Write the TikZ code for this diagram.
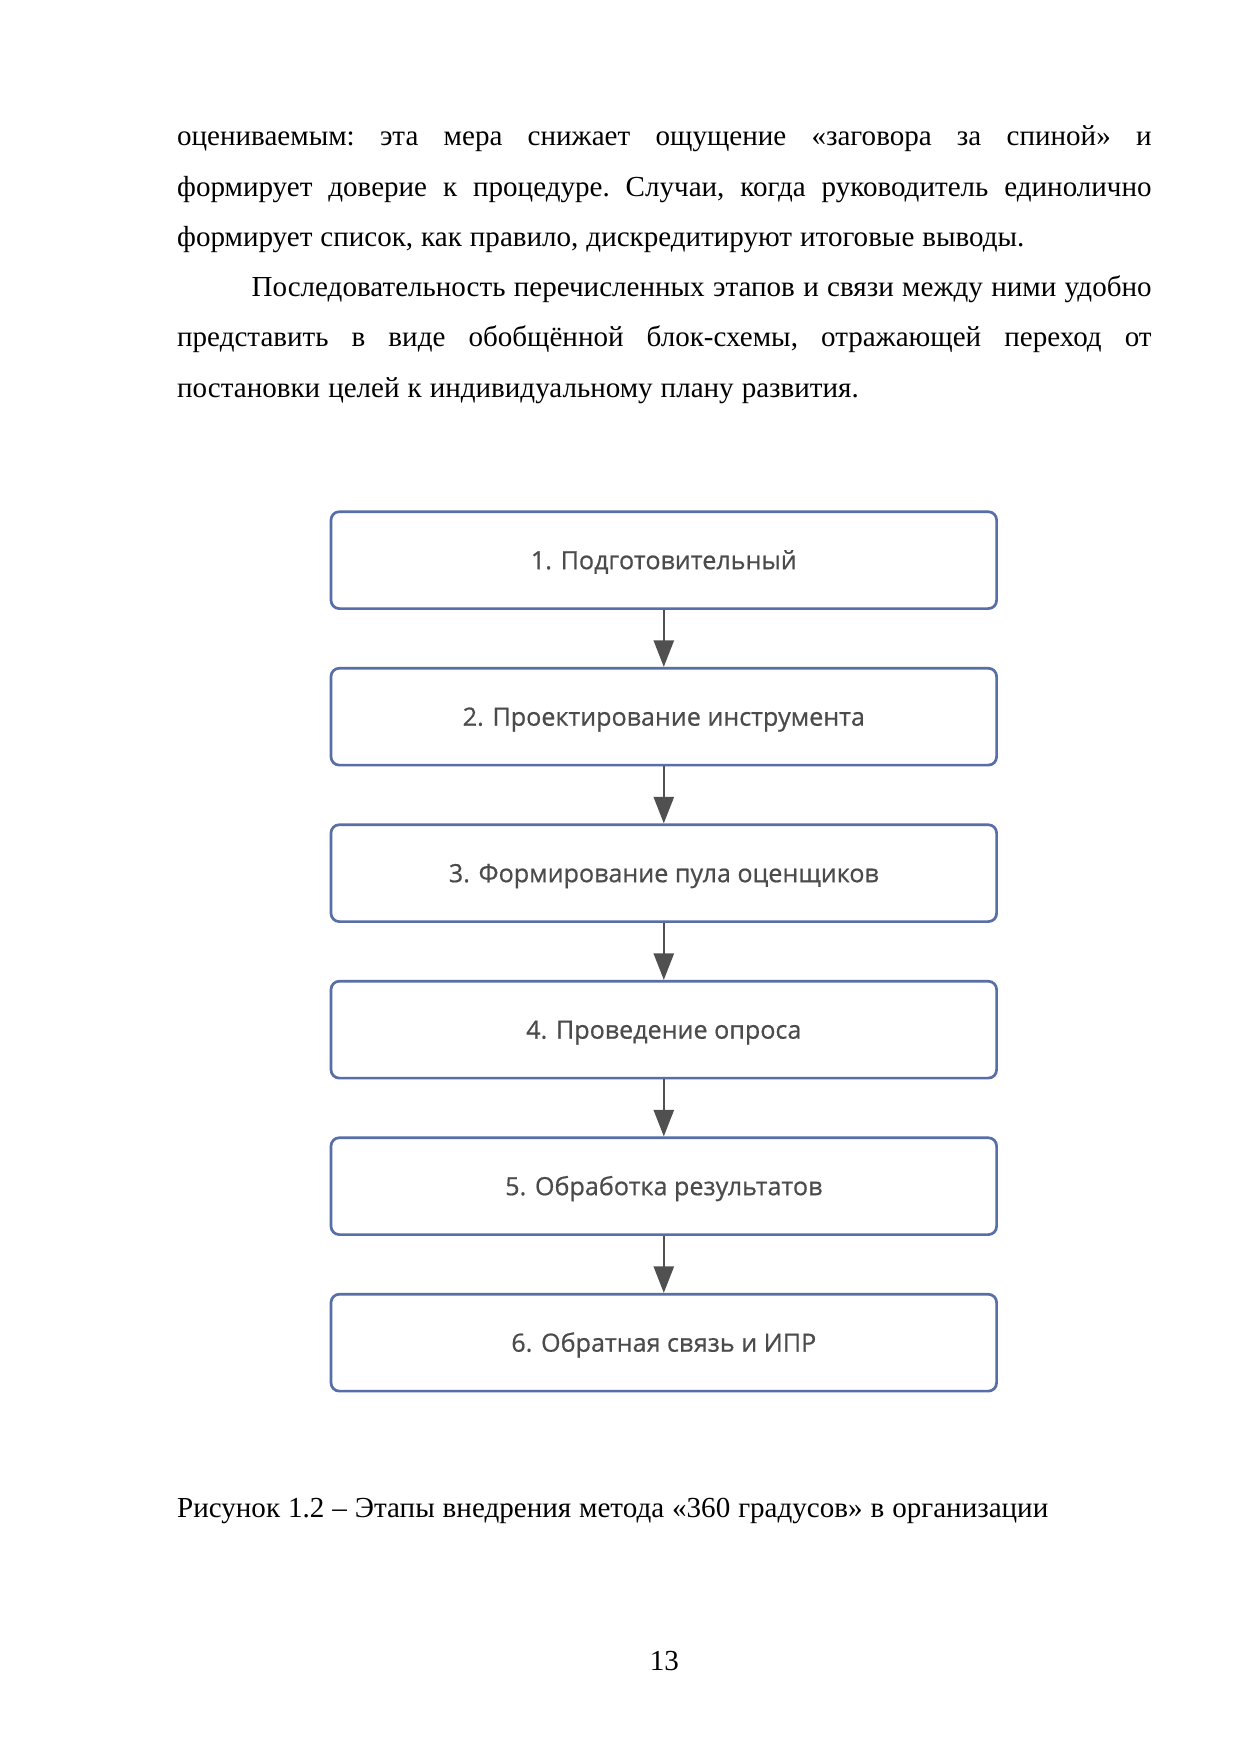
\documentclass[tikz,border=0pt]{standalone}
\usepackage{fontspec}
\setmainfont{Liberation Serif}
\newfontfamily\boxfont[FakeBold=0.6]{Open Sans}
\usetikzlibrary{arrows.meta}
\definecolor{boxblue}{RGB}{88,110,168}
\definecolor{boxtext}{RGB}{75,75,75}
\definecolor{arrowgray}{RGB}{80,80,80}
\newskip\myspace
\myspace=3.85pt plus 3pt minus 0.5pt
\newcommand{\bodyfont}{\fontsize{14pt}{24.15pt}\selectfont\frenchspacing\spaceskip=\myspace}
\tikzset{
  bodyline/.style={anchor=base west, inner sep=0pt, outer sep=0pt, font=\bodyfont},
  stagebox/.style={draw=boxblue, line width=1.3pt, rounded corners=1.4mm, fill=white,
    minimum width=112.7mm, minimum height=16.4mm, inner sep=0pt,
    text height=3.05mm, text depth=0pt,
    font=\boxfont\fontsize{12.1pt}{14pt}\selectfont, text=boxtext},
  flowarrow/.style={draw=arrowgray, line width=1.2pt, -{Triangle[length=4.5mm,width=3.4mm]}}
}
\newcommand{\jline}[1]{\hbox to 165mm{#1}}
\begin{document}
\begin{tikzpicture}[x=1mm,y=1mm]
\useasboundingbox[fill=white] (0,0) rectangle (210,-297);
% body text
\node[bodyline] (l1) at (30,-24.7) {\jline{оцениваемым: эта мера снижает ощущение «заговора за спиной» и}};
\node[bodyline] (l2) at (30,-33.21) {\jline{формирует доверие к процедуре. Случаи, когда руководитель единолично}};
\node[bodyline] (l3) at (30,-41.72) {формирует список, как правило, дискредитируют итоговые выводы.};
\node[bodyline] (l4) at (42.6,-50.23) {\hbox to 152.4mm{Последовательность перечисленных этапов и связи между ними удобно}};
\node[bodyline] (l5) at (30,-58.74) {\jline{представить в виде обобщённой блок-схемы, отражающей переход от}};
\node[bodyline] (l6) at (30,-67.25) {постановки целей к индивидуальному плану развития.};
% flowchart
\node[stagebox] (s1) at (112.4,-94.85) {1. Подготовительный};
\node[stagebox] (s2) at (112.4,-121.35) {2. Проектирование инструмента};
\node[stagebox] (s3) at (112.4,-147.85) {3. Формирование пула оценщиков};
\node[stagebox] (s4) at (112.4,-174.35) {4. Проведение опроса};
\node[stagebox] (s5) at (112.4,-200.85) {5. Обработка результатов};
\node[stagebox] (s6) at (112.4,-227.35) {6. Обратная связь и ИПР};
\draw[flowarrow] (s1) -- (s2);
\draw[flowarrow] (s2) -- (s3);
\draw[flowarrow] (s3) -- (s4);
\draw[flowarrow] (s4) -- (s5);
\draw[flowarrow] (s5) -- (s6);
% caption and page number
\node[bodyline] (cap) at (30,-256.9) {Рисунок 1.2 – Этапы внедрения метода «360 градусов» в организации};
\node[bodyline, anchor=base] (pnum) at (112.5,-282.9) {13};
\end{tikzpicture}
\end{document}
